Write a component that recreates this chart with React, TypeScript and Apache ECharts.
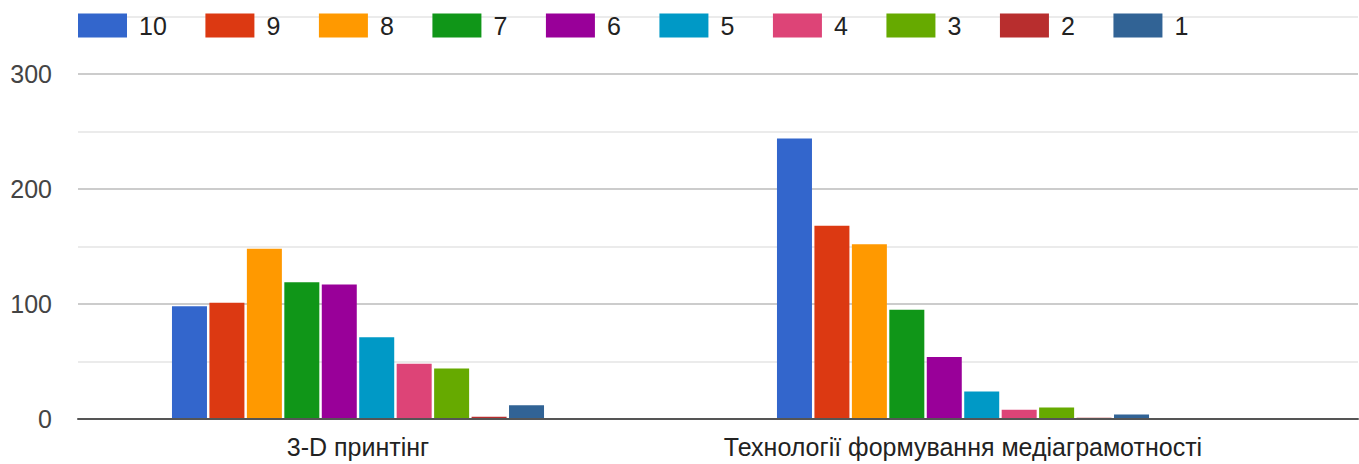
import React, { useEffect, useRef } from "react";
import * as echarts from "echarts";

const categories = ["3-D принтінг", "Технології формування медіаграмотності"];
const seriesNames = ["10", "9", "8", "7", "6", "5", "4", "3", "2", "1"];
// values per series: [3-D принтінг, Технології формування медіаграмотності]
const s10 = [98, 244];
const s9 = [101, 168];
const s8 = [148, 152];
const s7 = [119, 95];
const s6 = [117, 54];
const s5 = [71, 24];
const s4 = [48, 8];
const s3 = [44, 10];
const s2 = [2, 1];
const s1 = [12, 4];
const seriesValues = [s10, s9, s8, s7, s6, s5, s4, s3, s2, s1];
const colors = [
  "#3366cc", "#dc3912", "#ff9900", "#109618", "#990099",
  "#0099c6", "#dd4477", "#66aa00", "#b82e2e", "#316395",
];
const yTicks = [0, 100, 200, 300];

const FONT = "'Liberation Sans', Arial, sans-serif";

export default function App() {
  const ref = useRef<HTMLDivElement>(null);
  useEffect(() => {
    document.body.style.margin = "0";
    if (!ref.current) return;
    const chart = echarts.init(ref.current, undefined, { renderer: "svg" });
    chart.setOption({
      animation: false,
      color: colors,
      textStyle: { fontFamily: FONT },
      legend: {
        left: 73,
        top: 8,
        itemWidth: 49,
        itemHeight: 24,
        itemGap: 38.6,
        icon: "rect",
        textStyle: { fontSize: 25, color: "#222", fontFamily: FONT, padding: [0, 0, 0, 7] },
        data: seriesNames,
      },
      grid: [
        { left: 78, right: 1, top: 16.5, bottom: 45, containLabel: false },
        { left: 55.5, right: 93.5, top: 16.5, bottom: 45, containLabel: false },
      ],
      xAxis: [
        {
          type: "category",
          gridIndex: 0,
          data: categories,
          z: 5,
          axisLine: { show: true, lineStyle: { color: "#555", width: 2 } },
          axisTick: { show: false },
          axisLabel: { show: false },
        },
        {
          type: "category",
          gridIndex: 1,
          data: categories,
          axisLine: { show: false },
          axisTick: { show: false },
          axisLabel: { fontSize: 25, color: "#222", margin: 15, fontFamily: FONT, interval: 0 },
        },
      ],
      yAxis: [
        {
          type: "value",
          gridIndex: 0,
          min: 0,
          max: 350,
          interval: 50,
          axisLine: { show: false },
          axisTick: { show: false },
          axisLabel: {
            fontSize: 25,
            color: "#444",
            margin: 26,
            fontFamily: FONT,
            formatter: (v: number) => (yTicks.includes(v) ? String(v) : ""),
          },
          splitLine: { lineStyle: { color: ["#cccccc", "#ebebeb"], width: 2 } },
        },
        {
          type: "value",
          gridIndex: 1,
          min: 0,
          max: 350,
          interval: 50,
          show: false,
          splitLine: { show: false },
        },
      ],
      series: seriesNames.map((name, i) => ({
        name,
        type: "bar",
        xAxisIndex: 1,
        yAxisIndex: 1,
        barWidth: 35,
        barGap: "7%",
        data: seriesValues[i],
        itemStyle: { color: colors[i] },
      })),
    });
    return () => chart.dispose();
  }, []);
  return <div ref={ref} style={{ width: 1359, height: 464 }} />;
}
